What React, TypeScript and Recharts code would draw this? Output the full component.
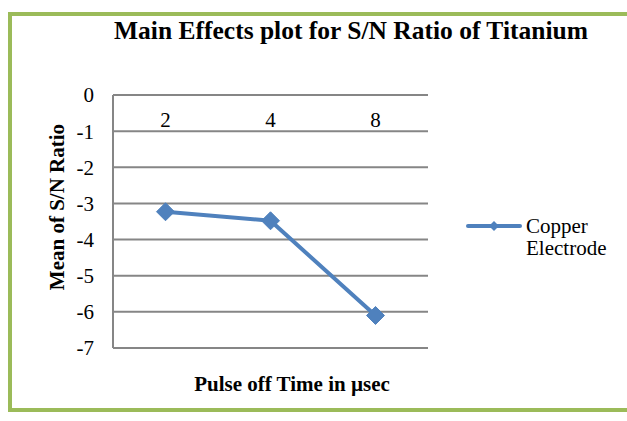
import React from "react";
import { LineChart, Line, XAxis, YAxis, CartesianGrid, Legend } from "recharts";

const categories = ["2", "4", "8"];
const copperElectrode = [-3.23, -3.48, -6.1];
const yTicks = [0, -1, -2, -3, -4, -5, -6, -7];
const seriesName = "Copper Electrode";
const titleText = "Main Effects plot for S/N Ratio of Titanium";
const xTitle = "Pulse off Time in µsec";
const yTitle = "Mean of S/N Ratio";

const data = categories.map((c, i) => ({ x: c, v: copperElectrode[i] }));

const FONT = "Liberation Serif, Times New Roman, DejaVu Serif, serif";
const BLUE = "#4F81BD";
const GRID = "#868686";

const Diamond = (props: any) => {
  const { cx, cy, index } = props;
  if (cx == null || cy == null) return null;
  const s = 9;
  return (
    <path
      key={`d-${index}`}
      d={`M${cx},${cy - s} L${cx + s},${cy} L${cx},${cy + s} L${cx - s},${cy} Z`}
      fill={BLUE}
      stroke={BLUE}
    />
  );
};

const XTick = (props: any) => {
  const { x, y, payload } = props;
  return (
    <text x={x} y={y} dy={32} textAnchor="middle" fill="#000" fontSize={21} fontFamily={FONT}>
      {payload.value}
    </text>
  );
};

const LegendContent = () => (
  <div style={{ position: "relative", width: 160, height: 44, fontFamily: FONT, fontSize: 21, lineHeight: "22px", color: "#000", textAlign: "left" }}>
    <svg width={58} height={22} style={{ position: "absolute", left: 0, top: 0 }}>
      <line x1={2} y1={11} x2={54} y2={11} stroke={BLUE} strokeWidth={4} strokeLinecap="round" />
      <path d="M28,6 L33,11 L28,16 L23,11 Z" fill={BLUE} />
    </svg>
    <div style={{ position: "absolute", left: 60, top: 0, whiteSpace: "nowrap" }}>
      Copper
      <br />
      Electrode
    </div>
  </div>
);

export default function App() {
  return (
    <div style={{ position: "absolute", left: 0, top: 0, width: 627, height: 421, overflow: "hidden", background: "#fff" }}>
      <div
        style={{
          position: "absolute",
          left: 8,
          top: 12,
          width: 660,
          height: 400,
          border: "4px solid #9BBB59",
          boxSizing: "border-box",
        }}
      />
      <div
        style={{
          position: "absolute",
          left: 351,
          top: 18,
          transform: "translateX(-50%)",
          whiteSpace: "nowrap",
          fontFamily: FONT,
          fontWeight: "bold",
          fontSize: 25.5,
          lineHeight: "26px",
          color: "#000",
        }}
      >
        {titleText}
      </div>
      <div style={{ position: "absolute", left: 0, top: 0 }}>
        <LineChart width={627} height={421} data={data} margin={{ top: 94, right: 199, bottom: 73, left: 0 }}>
          <CartesianGrid vertical={false} stroke={GRID} strokeWidth={2} />
          <XAxis
            dataKey="x"
            orientation="top"
            height={1}
            axisLine={false}
            tickLine={false}
            tickSize={0}
            tickMargin={0}
            padding={{ left: 52.5, right: 52.5 }}
            tick={<XTick />}
            interval={0}
          />
          <YAxis
            type="number"
            domain={[-7, 0]}
            ticks={yTicks}
            interval={0}
            width={113}
            axisLine={{ stroke: GRID, strokeWidth: 2 }}
            tickLine={false}
            tickSize={0}
            tickMargin={19}
            tick={{ fill: "#000", fontSize: 21, fontFamily: FONT }}
          />
          <Legend
            layout="horizontal"
            verticalAlign="middle"
            align="center"
            content={<LegendContent />}
            wrapperStyle={{ left: 466, top: 215, width: 160, right: "auto", bottom: "auto" }}
          />
          <Line
            type="linear"
            dataKey="v"
            name={seriesName}
            stroke={BLUE}
            strokeWidth={4}
            dot={<Diamond />}
            activeDot={false}
            isAnimationActive={false}
          />
        </LineChart>
      </div>
      <div
        style={{
          position: "absolute",
          left: 292,
          top: 374,
          transform: "translateX(-50%)",
          whiteSpace: "nowrap",
          fontFamily: FONT,
          fontWeight: "bold",
          fontSize: 21,
          lineHeight: "21px",
          color: "#000",
        }}
      >
        {xTitle}
      </div>
      <div
        style={{
          position: "absolute",
          left: 57,
          top: 207,
          transform: "translate(-50%, -50%) rotate(-90deg)",
          whiteSpace: "nowrap",
          fontFamily: FONT,
          fontWeight: "bold",
          fontSize: 21,
          lineHeight: "21px",
          color: "#000",
        }}
      >
        {yTitle}
      </div>
    </div>
  );
}
